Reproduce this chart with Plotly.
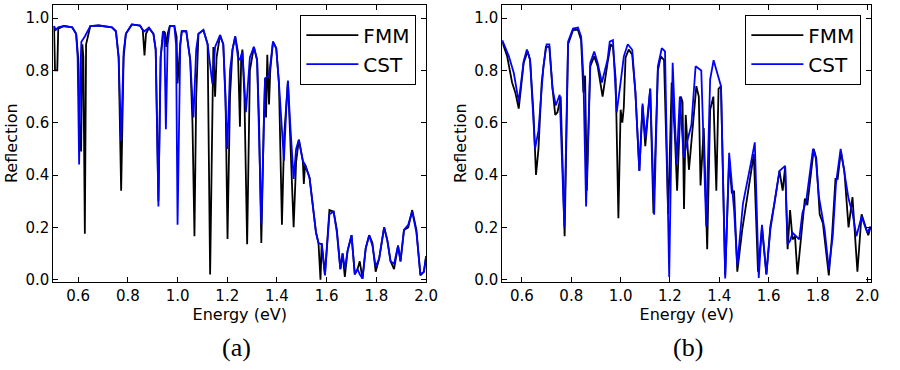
import plotly.graph_objects as go

# ---------------- data ----------------
# Panel (a)
a_fmm_x = [0.503, 0.507, 0.516, 0.52, 0.543, 0.576, 0.592, 0.60, 0.605, 0.612, 0.617, 0.621, 0.627, 0.632,
           0.649, 0.683, 0.736, 0.752, 0.763, 0.773, 0.783, 0.792, 0.816, 0.849, 0.86, 0.867, 0.873, 0.885,
           0.903, 0.912, 0.923, 0.932, 0.943, 0.949, 0.955, 0.96, 0.969, 0.987, 0.996, 1.0,
           1.011, 1.017, 1.035, 1.051, 1.06, 1.068, 1.075, 1.084, 1.104, 1.121, 1.131, 1.139, 1.144, 1.151,
           1.157, 1.171, 1.184, 1.193, 1.201, 1.211, 1.221, 1.232, 1.243, 1.251, 1.256, 1.261, 1.269, 1.28,
           1.291, 1.307, 1.32, 1.328, 1.337, 1.347, 1.352, 1.356, 1.361, 1.368, 1.373, 1.384, 1.397, 1.408,
           1.42, 1.429, 1.444, 1.453, 1.467, 1.477, 1.488,
           1.495, 1.504, 1.508, 1.513, 1.531, 1.544, 1.557, 1.567, 1.575, 1.58, 1.588, 1.593, 1.611, 1.628,
           1.641, 1.655, 1.664, 1.673, 1.684, 1.70, 1.713, 1.724, 1.733, 1.744, 1.757, 1.771, 1.784, 1.797,
           1.811, 1.831, 1.844, 1.857, 1.871, 1.887, 1.897, 1.911, 1.928, 1.944, 1.961, 1.977, 1.991, 2.0]
a_fmm_y = [0.97, 0.80, 0.80, 0.96, 0.97, 0.965, 0.94, 0.85, 0.60, 0.49, 0.90, 0.85, 0.175, 0.90,
           0.97, 0.972, 0.965, 0.95, 0.85, 0.34, 0.85, 0.94, 0.976, 0.972, 0.955, 0.857, 0.94, 0.962,
           0.94, 0.88, 0.30, 0.85, 0.95, 0.945, 0.89, 0.94, 0.97, 0.97, 0.93, 0.75,
           0.90, 0.95, 0.95, 0.84, 0.60, 0.166, 0.70, 0.94, 0.955, 0.90, 0.02, 0.60, 0.89, 0.70,
           0.85, 0.935, 0.90, 0.70, 0.155, 0.70, 0.88, 0.93, 0.87, 0.585, 0.85, 0.88, 0.70, 0.135,
           0.80, 0.89, 0.84, 0.60, 0.14, 0.60, 0.77, 0.62, 0.86, 0.67, 0.80, 0.91, 0.885, 0.75,
           0.21, 0.55, 0.76, 0.55, 0.20, 0.45, 0.535,
           0.50, 0.454, 0.366, 0.44, 0.39, 0.29, 0.18, 0.14, 0.0, 0.14, 0.06, 0.02, 0.266, 0.26,
           0.19, 0.04, 0.10, 0.01, 0.11, 0.17, 0.02, 0.04, 0.07, 0.004, 0.12, 0.17, 0.14, 0.03,
           0.08, 0.20, 0.15, 0.07, 0.04, 0.13, 0.07, 0.19, 0.20, 0.266, 0.19, 0.016, 0.03, 0.09]

a_cst_x = [0.503, 0.51, 0.52, 0.543, 0.576, 0.592, 0.598, 0.604, 0.609, 0.613, 0.627, 0.649, 0.683, 0.736,
           0.752, 0.763, 0.773, 0.783, 0.792, 0.816, 0.849, 0.86, 0.867, 0.875, 0.885, 0.903, 0.912, 0.923,
           0.932, 0.941, 0.947, 0.953, 0.96, 0.969, 0.987, 0.994, 1.0,
           1.011, 1.017, 1.035, 1.051, 1.064, 1.075, 1.084, 1.104, 1.121, 1.14, 1.151, 1.171, 1.184, 1.20,
           1.211, 1.221, 1.232, 1.243, 1.25, 1.261, 1.275, 1.291, 1.307, 1.32, 1.337, 1.347, 1.352, 1.361,
           1.368, 1.384, 1.397, 1.408, 1.428, 1.437, 1.444, 1.453, 1.467, 1.477, 1.488,
           1.504, 1.513, 1.531, 1.544, 1.557, 1.567, 1.58, 1.588, 1.593, 1.611, 1.628, 1.641, 1.655, 1.664,
           1.673, 1.684, 1.70, 1.713, 1.724, 1.733, 1.744, 1.757, 1.771, 1.784, 1.797, 1.811, 1.831, 1.844,
           1.857, 1.871, 1.887, 1.897, 1.911, 1.928, 1.944, 1.961, 1.977, 1.991, 2.0]
a_cst_y = [0.97, 0.955, 0.965, 0.97, 0.965, 0.94, 0.85, 0.44, 0.80, 0.91, 0.93, 0.97, 0.972, 0.965,
           0.95, 0.85, 0.53, 0.87, 0.94, 0.976, 0.972, 0.955, 0.95, 0.955, 0.964, 0.94, 0.88, 0.28,
           0.85, 0.95, 0.93, 0.575, 0.90, 0.97, 0.97, 0.90, 0.21,
           0.90, 0.95, 0.95, 0.84, 0.62, 0.88, 0.94, 0.955, 0.90, 0.75, 0.89, 0.935, 0.90, 0.50,
           0.80, 0.88, 0.93, 0.85, 0.84, 0.87, 0.64, 0.85, 0.89, 0.84, 0.21, 0.60, 0.77, 0.775,
           0.78, 0.91, 0.885, 0.75, 0.455, 0.65, 0.76, 0.60, 0.385, 0.50, 0.535,
           0.454, 0.44, 0.39, 0.29, 0.18, 0.14, 0.135, 0.06, 0.016, 0.25, 0.26, 0.18, 0.04, 0.10,
           0.04, 0.11, 0.17, 0.02, 0.04, 0.02, 0.004, 0.12, 0.17, 0.13, 0.05, 0.08, 0.20, 0.15,
           0.07, 0.06, 0.13, 0.07, 0.19, 0.21, 0.26, 0.18, 0.02, 0.03, 0.09]

# Panel (b)
b_fmm_x = [0.52, 0.54, 0.56, 0.573, 0.587, 0.607, 0.623, 0.633, 0.647, 0.657, 0.667, 0.68, 0.697, 0.711,
           0.724, 0.735, 0.744, 0.757, 0.773, 0.787, 0.807, 0.827, 0.84, 0.849, 0.856, 0.863, 0.877, 0.893,
           0.907, 0.927, 0.947, 0.96, 0.969, 0.98, 0.991, 1.0,
           1.007, 1.013, 1.02, 1.033, 1.047, 1.06, 1.076, 1.089, 1.10, 1.12, 1.133, 1.151, 1.163, 1.176,
           1.193, 1.207, 1.22, 1.229, 1.244, 1.251, 1.257, 1.264, 1.277, 1.291, 1.307, 1.317, 1.324, 1.337,
           1.351, 1.363, 1.376, 1.388, 1.397, 1.407, 1.424, 1.44, 1.451, 1.46, 1.473, 1.493,
           1.52, 1.54, 1.557, 1.573, 1.591, 1.607, 1.623, 1.644, 1.657, 1.667, 1.677, 1.687, 1.697, 1.707,
           1.717, 1.733, 1.747, 1.757, 1.773, 1.783, 1.793, 1.807, 1.82, 1.831, 1.844, 1.857, 1.871, 1.88,
           1.893, 1.907, 1.924, 1.94, 1.96, 1.977, 1.991, 2.004, 2.013]
b_fmm_y = [0.91, 0.854, 0.754, 0.716, 0.654, 0.83, 0.873, 0.84, 0.63, 0.40, 0.50, 0.754, 0.89, 0.89,
           0.73, 0.63, 0.64, 0.70, 0.166, 0.90, 0.954, 0.956, 0.916, 0.716, 0.78, 0.34, 0.816, 0.854,
           0.816, 0.70, 0.829, 0.90, 0.89, 0.766, 0.235, 0.65,
           0.60, 0.66, 0.85, 0.88, 0.86, 0.716, 0.416, 0.666, 0.51, 0.73, 0.254, 0.80, 0.854, 0.84,
           0.25, 0.754, 0.55, 0.34, 0.70, 0.68, 0.27, 0.63, 0.42, 0.566, 0.74, 0.70, 0.36, 0.58,
           0.116, 0.65, 0.70, 0.34, 0.73, 0.74, 0.016, 0.46, 0.33, 0.34, 0.03, 0.19,
           0.366, 0.48, 0.03, 0.20, 0.02, 0.204, 0.29, 0.416, 0.34, 0.43, 0.116, 0.266, 0.154, 0.166,
           0.02, 0.19, 0.31, 0.285, 0.416, 0.50, 0.466, 0.25, 0.216, 0.116, 0.016, 0.166, 0.385, 0.385,
           0.49, 0.416, 0.20, 0.316, 0.03, 0.25, 0.204, 0.17, 0.20]

b_cst_x = [0.52, 0.547, 0.567, 0.587, 0.607, 0.62, 0.633, 0.653, 0.667, 0.687, 0.70, 0.711, 0.724, 0.737,
           0.753, 0.772, 0.787, 0.807, 0.827, 0.84, 0.849, 0.86, 0.877, 0.893, 0.907, 0.924, 0.947, 0.956,
           0.969, 0.984, 1.0,
           1.013, 1.029, 1.047, 1.06, 1.076, 1.089, 1.10, 1.12, 1.136, 1.151, 1.167, 1.18, 1.197, 1.211,
           1.227, 1.24, 1.256, 1.273, 1.287, 1.304, 1.327, 1.347, 1.363, 1.377, 1.407, 1.424, 1.44, 1.46,
           1.473, 1.496, 1.52,
           1.527, 1.544, 1.56, 1.573, 1.591, 1.607, 1.627, 1.644, 1.667, 1.677, 1.687, 1.697, 1.724, 1.737,
           1.753, 1.78, 1.791, 1.804, 1.827, 1.844, 1.86, 1.873, 1.892, 1.907, 1.924, 1.94, 1.956, 1.977,
           2.0, 2.013]
b_cst_y = [0.916, 0.854, 0.79, 0.68, 0.835, 0.88, 0.84, 0.50, 0.57, 0.816, 0.90, 0.90, 0.73, 0.666,
           0.707, 0.20, 0.91, 0.96, 0.964, 0.929, 0.779, 0.28, 0.829, 0.8725, 0.829, 0.754, 0.841, 0.91,
           0.916, 0.64, 0.754,
           0.854, 0.90, 0.879, 0.716, 0.416, 0.673, 0.54, 0.731, 0.248, 0.816, 0.885, 0.873, 0.01, 0.829,
           0.441, 0.70, 0.466, 0.54, 0.591, 0.816, 0.80, 0.204, 0.766, 0.839, 0.74, 0.004, 0.485, 0.266,
           0.054, 0.291, 0.40,
           0.44, 0.525, 0.006, 0.21, 0.02, 0.191, 0.316, 0.416, 0.435, 0.135, 0.148, 0.179, 0.154, 0.254,
           0.304, 0.50, 0.466, 0.316, 0.191, 0.041, 0.166, 0.366, 0.50, 0.404, 0.31, 0.254, 0.166, 0.241,
           0.179, 0.204]

series_names = ["FMM", "CST"]
x_ticks = [0.6, 0.8, 1.0, 1.2, 1.4, 1.6, 1.8, 2.0]
y_ticks = [0.0, 0.2, 0.4, 0.6, 0.8, 1.0]
x_title = "Energy (eV)"
y_title = "Reflection"
panel_labels = ["(a)", "(b)"]

# ---------------- figure ----------------
W, H = 900, 370
fig = go.Figure()

line_w = 1.8
fig.add_trace(go.Scatter(x=a_fmm_x, y=a_fmm_y, mode="lines", name=series_names[0],
                         line=dict(color="black", width=line_w), xaxis="x", yaxis="y", legend="legend"))
fig.add_trace(go.Scatter(x=a_cst_x, y=a_cst_y, mode="lines", name=series_names[1],
                         line=dict(color="#0000ff", width=line_w), xaxis="x", yaxis="y", legend="legend"))
fig.add_trace(go.Scatter(x=b_fmm_x, y=b_fmm_y, mode="lines", name=series_names[0],
                         line=dict(color="black", width=line_w), xaxis="x2", yaxis="y2", legend="legend2"))
fig.add_trace(go.Scatter(x=b_cst_x, y=b_cst_y, mode="lines", name=series_names[1],
                         line=dict(color="#0000ff", width=line_w), xaxis="x2", yaxis="y2", legend="legend2"))

tick_font = dict(family="DejaVu Sans", size=15, color="black")
title_font = dict(family="DejaVu Sans", size=16, color="black")

y_dom = [1 - 287 / H, 1 - 5 / H]
common_x = dict(showgrid=False, zeroline=False, showline=True, linecolor="black", linewidth=1,
                mirror="ticks", ticks="inside", ticklen=5, tickwidth=1, tickcolor="black",
                tickvals=x_ticks, ticktext=[f"{v:.1f}" for v in x_ticks], tickfont=tick_font,
                title=dict(text=x_title, font=title_font, standoff=4))
common_y = dict(showgrid=False, zeroline=False, showline=True, linecolor="black", linewidth=1,
                mirror="ticks", ticks="inside", ticklen=5, tickwidth=1, tickcolor="black",
                tickvals=y_ticks, ticktext=[f"{v:.1f}" for v in y_ticks], tickfont=tick_font,
                range=[-0.0075, 1.0507], domain=y_dom,
                title=dict(text=y_title, font=title_font, standoff=3))

xa = dict(common_x); xa.update(domain=[54 / W, 432 / W], range=[0.5, 2.0005], anchor="y")
xb = dict(common_x); xb.update(domain=[509 / W, 883 / W], range=[0.52, 2.016], anchor="y2")
ya = dict(common_y); ya.update(anchor="x")
yb = dict(common_y); yb.update(anchor="x2")

legend_common = dict(bgcolor="white", bordercolor="black", borderwidth=1,
                     font=dict(family="DejaVu Sans", size=20, color="black"),
                     xanchor="right", yanchor="top", itemwidth=52, tracegroupgap=0)

fig.update_layout(
    width=W, height=H,
    margin=dict(l=0, r=0, t=0, b=0),
    paper_bgcolor="white", plot_bgcolor="white",
    xaxis=xa, yaxis=ya, xaxis2=xb, yaxis2=yb,
    legend=dict(legend_common, x=422 / W, y=1 - 15 / H),
    legend2=dict(legend_common, x=873 / W, y=1 - 15 / H),
    showlegend=True,
)

for lbl, cx in zip(panel_labels, [240, 697]):
    fig.add_annotation(text=lbl, x=cx / W, y=1 - 354 / H, xref="paper", yref="paper",
                       showarrow=False, xanchor="center", yanchor="middle",
                       font=dict(family="Liberation Serif", size=26, color="black"))

fig.write_html("out.html")
